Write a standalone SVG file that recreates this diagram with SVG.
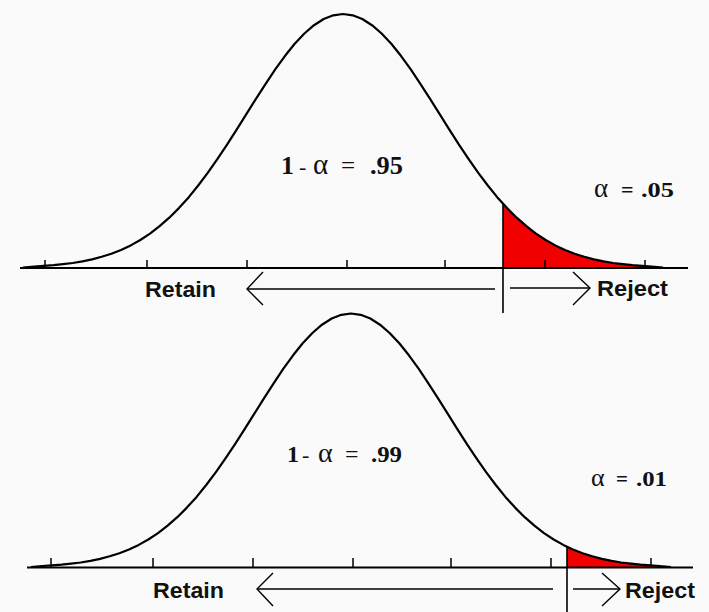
<svg xmlns="http://www.w3.org/2000/svg" xmlns:xlink="http://www.w3.org/1999/xlink" width="709" height="612" viewBox="0 0 709 612">
<style>
.axis{stroke:#000;stroke-width:2;fill:none}
.tick{stroke:#000;stroke-width:1.5;fill:none}
.curve{stroke:#000;stroke-width:2.2;fill:none;stroke-linejoin:round}
.arr{stroke:#000;stroke-width:1.4;fill:none}
.crit{stroke:#000;stroke-width:1.6;fill:none}
.red{fill:#f00000;stroke:none}
.lbl{font-family:"Liberation Sans",Arial,sans-serif;font-weight:bold;font-size:22px;fill:#111}
.eq{font-family:"Liberation Serif","Times New Roman",serif;fill:#111}
.b{font-weight:bold}
</style>
<defs>
<path id="bell" class="curve" d="M-320,-0.5 L-308.8,-1.5 L-299.2,-2.1 L-289.5,-2.8 L-279.9,-3.8 L-270.2,-5 L-260.6,-6.6 L-250.9,-8.6 L-241.3,-11.2 L-231.6,-14.3 L-222,-18 L-212.3,-22.6 L-202.7,-28 L-193,-34.4 L-183.4,-41.8 L-173.7,-50.3 L-164.1,-59.9 L-154.4,-70.6 L-144.8,-82.5 L-135.1,-95.3 L-125.5,-109.1 L-115.8,-123.6 L-106.2,-138.7 L-96.5,-154.1 L-86.9,-169.4 L-77.2,-184.4 L-67.6,-198.8 L-57.9,-212.2 L-48.3,-224.2 L-38.6,-234.5 L-29,-242.8 L-19.3,-249 L-9.7,-252.7 L0,-254 L9.7,-252.7 L19.3,-249 L29,-242.8 L38.6,-234.5 L48.3,-224.2 L57.9,-212.2 L67.6,-198.8 L77.2,-184.4 L86.9,-169.4 L96.5,-154.1 L106.2,-138.7 L115.8,-123.6 L125.5,-109.1 L135.1,-95.3 L144.8,-82.5 L154.4,-70.6 L164.1,-59.9 L173.7,-50.3 L183.4,-41.8 L193,-34.4 L202.7,-28 L212.3,-22.6 L222,-18 L231.6,-14.3 L241.3,-11.2 L250.9,-8.6 L260.6,-6.6 L270.2,-5 L279.9,-3.8 L289.5,-2.8 L299.2,-2.1 L308.8,-1.5 L320,-0.5"/>
</defs>
<rect width="709" height="612" fill="#fafafa"/>

<g id="panel-095">
  <path class="red" d="M503,268 L503,203.7 L507.1,208.1 L516.7,217.7 L526.4,226.2 L536,233.6 L545.7,240 L555.3,245.4 L565,250 L574.6,253.7 L584.3,256.8 L593.9,259.4 L603.6,261.4 L613.2,263 L622.9,264.2 L632.5,265.2 L642.2,265.9 L651.8,266.5 L663,267.5 L663,268 Z"/>
  <line class="axis" x1="20" y1="268" x2="688" y2="268"/>
  <path class="tick" d="M45,260V268 M147,260V268 M247,260V268 M347,260V268 M445,260V268 M545,260V268 M645,260V268"/>
  <use xlink:href="#bell" href="#bell" transform="translate(343,268)"/>
  <text class="eq" font-size="25" y="174"><tspan class="b" x="281" font-size="26">1</tspan><tspan x="299" font-size="22">-</tspan><tspan x="313" font-size="29">α</tspan><tspan x="341">=</tspan><tspan class="b" x="370" textLength="33" lengthAdjust="spacingAndGlyphs">.95</tspan></text>
  <text class="eq" font-size="22" y="197"><tspan x="594" font-size="27">α</tspan><tspan x="621" class="b">=</tspan><tspan class="b" x="641" textLength="33" lengthAdjust="spacingAndGlyphs">.05</tspan></text>
  <text class="lbl" x="145" y="297" textLength="71" lengthAdjust="spacingAndGlyphs">Retain</text>
  <text class="lbl" x="597" y="296" textLength="71" lengthAdjust="spacingAndGlyphs">Reject</text>
</g>

<g id="panel-099">
  <path class="red" d="M567,567.5 L567,546.7 L572.9,549.5 L582.6,553.2 L592.3,556.3 L601.9,558.9 L611.6,560.9 L621.2,562.5 L630.9,563.7 L640.5,564.7 L650.2,565.4 L659.8,566 L671,567 L671,567.5 Z"/>
  <line class="axis" x1="27" y1="567.5" x2="693" y2="567.5"/>
  <path class="tick" d="M51,558V567.5 M153,558V567.5 M253,558V567.5 M353,558V567.5 M451,558V567.5 M551,558V567.5 M651,558V567.5"/>
  <use xlink:href="#bell" href="#bell" transform="translate(351,567.5)"/>
  <text class="eq" font-size="24" y="462"><tspan class="b" x="287">1</tspan><tspan x="302" font-size="22">-</tspan><tspan x="318" font-size="28">α</tspan><tspan x="345">=</tspan><tspan class="b" x="371" textLength="31" lengthAdjust="spacingAndGlyphs">.99</tspan></text>
  <text class="eq" font-size="21" y="486"><tspan x="591" font-size="26">α</tspan><tspan x="616" class="b">=</tspan><tspan class="b" x="636" textLength="31" lengthAdjust="spacingAndGlyphs">.01</tspan></text>
  <text class="lbl" x="153" y="598" textLength="71" lengthAdjust="spacingAndGlyphs">Retain</text>
  <text class="lbl" x="625" y="598" textLength="70" lengthAdjust="spacingAndGlyphs">Reject</text>
</g>

<g id="connectors">
  <line class="crit" x1="503" y1="203" x2="503" y2="313"/>
  <line class="arr" x1="247" y1="289" x2="495" y2="289"/>
  <polyline class="arr" points="263,272 247,289 263,305"/>
  <line class="arr" x1="510" y1="288" x2="590" y2="288"/>
  <polyline class="arr" points="573,272 590,288 573,305"/>
  <line class="crit" x1="567" y1="546" x2="567" y2="612"/>
  <line class="arr" x1="257" y1="589" x2="553" y2="589"/>
  <polyline class="arr" points="273,573 257,589 273,606"/>
  <line class="arr" x1="573" y1="589" x2="620" y2="589"/>
  <polyline class="arr" points="602,573 620,589 602,606"/>
</g>
</svg>
